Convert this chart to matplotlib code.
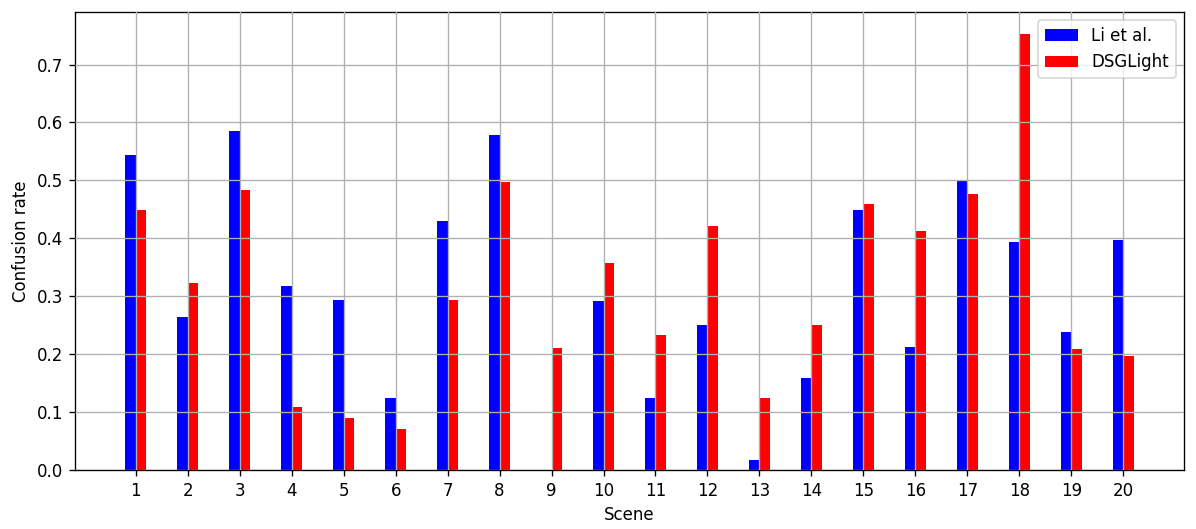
import numpy as np
import matplotlib
matplotlib.use("Agg")
import matplotlib.pyplot as plt

scenes = list(range(1, 21))
li_et_al = [0.543, 0.264, 0.586, 0.317, 0.294, 0.124, 0.430, 0.579, 0.0, 0.291,
            0.124, 0.250, 0.017, 0.159, 0.449, 0.212, 0.499, 0.394, 0.238, 0.397]
dsglight = [0.449, 0.323, 0.484, 0.108, 0.090, 0.071, 0.293, 0.498, 0.210, 0.357,
            0.233, 0.421, 0.124, 0.250, 0.460, 0.413, 0.476, 0.753, 0.209, 0.197]

DPI = 120
fig = plt.figure(figsize=(1196 / DPI, 529 / DPI), dpi=DPI)
ax = fig.add_axes([0.0627, 0.1115, 0.990 - 0.0627, 0.9773 - 0.1115])

x = np.array(scenes)
width = 0.2
ax.bar(x - width / 2, li_et_al, width, color="blue", label="Li et al.")
ax.bar(x + width / 2, dsglight, width, color="red", label="DSGLight")

ax.set_xticks(x)
ax.set_xticklabels([str(s) for s in scenes])
ax.set_xlabel("Scene")
ax.set_ylabel("Confusion rate")
ax.grid(True)
ax.set_axisbelow(False)
ax.legend(loc="upper right")

fig.savefig("out.png", dpi=DPI)
